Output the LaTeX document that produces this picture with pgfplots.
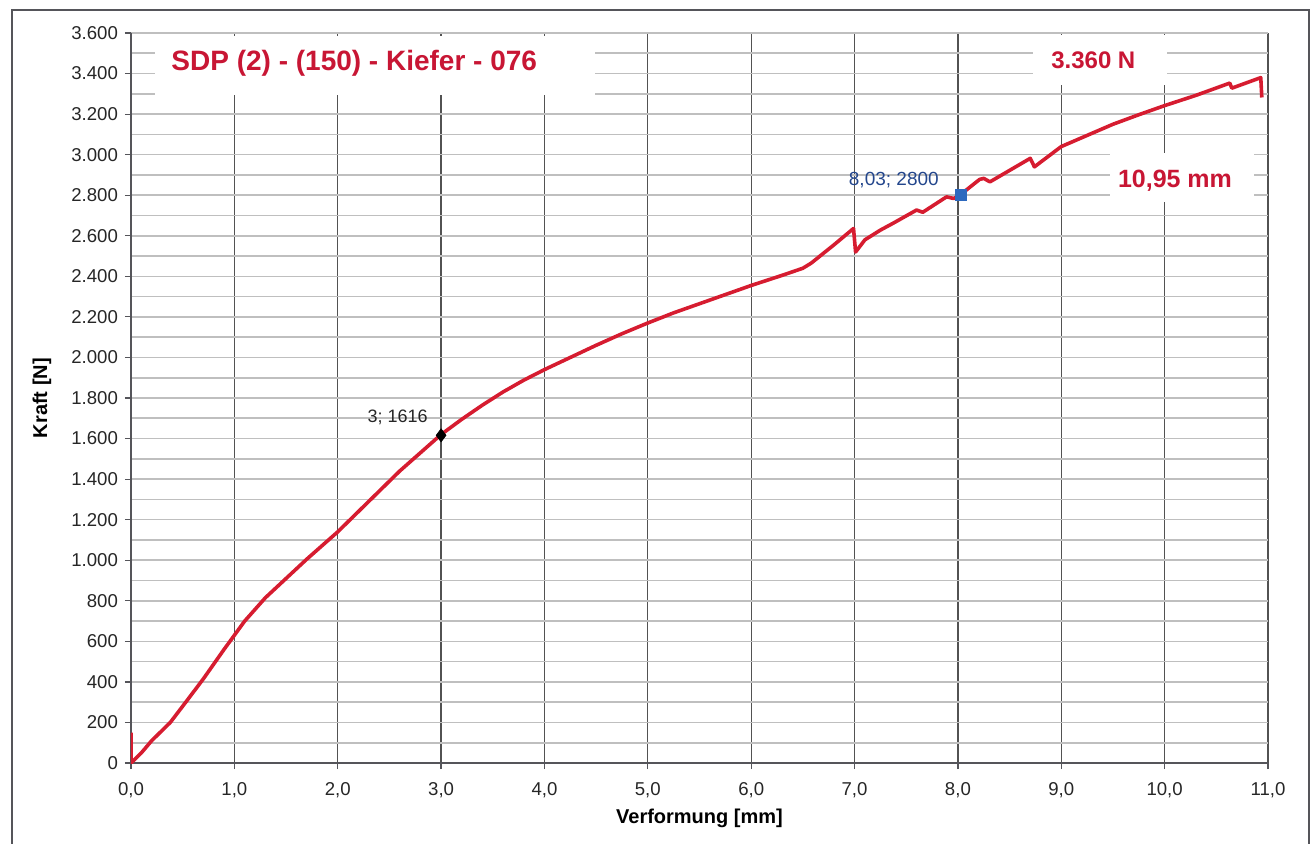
\documentclass[border=0pt]{standalone}
\usepackage{pgfplots}
\pgfplotsset{compat=1.18}
\usepackage{fontspec}
\setmainfont{Liberation Sans}
\definecolor{curvered}{RGB}{214,28,48}
\definecolor{titlered}{RGB}{200,22,52}
\definecolor{markblue}{RGB}{45,105,190}
\definecolor{labelblue}{RGB}{35,70,140}
\definecolor{axisgray}{RGB}{85,85,90}

\begin{document}
\begin{tikzpicture}
\useasboundingbox (-65.5pt,-40pt) rectangle (592.5pt,381.5pt);
\draw[axisgray, line width=0.8pt] (-59.5pt,-60pt) -- (-59.5pt,376.5pt) -- (589pt,376.5pt) -- (589pt,-60pt);
\begin{axis}[
  scale only axis,
  width=568.5pt, height=365pt,
  xmin=0, xmax=11, ymin=0, ymax=3600,
  axis lines*=left,
  axis line style={axisgray, line width=0.9pt},
  xtick={0,1,...,11},
  xticklabels={{0,0},{1,0},{2,0},{3,0},{4,0},{5,0},{6,0},{7,0},{8,0},{9,0},{10,0},{11,0}},
  ytick={0,200,...,3600},
  yticklabels={0,200,400,600,800,1.000,1.200,1.400,1.600,1.800,2.000,2.200,2.400,2.600,2.800,3.000,3.200,3.400,3.600},
  minor y tick num=1,
  xmajorgrids, ymajorgrids, yminorgrids,
  x grid style={black!68, line width=0.6pt},
  y grid style={black!25, line width=0.8pt},
  minor grid style={black!25, line width=0.8pt},
  tick align=outside,
  major tick length=3pt,
  minor tick length=0pt,
  tick style={axisgray, line width=0.6pt},
  ticklabel style={font=\fontsize{9.3}{10}\selectfont, text=black!85},
  xticklabel style={yshift=-3pt},
  xlabel={Verformung [mm]},
  ylabel={Kraft [N]},
  xlabel style={at={(axis description cs:0.5,-0.0753)}, anchor=center, font=\fontsize{10}{12}\selectfont\bfseries},
  ylabel style={at={(axis description cs:-0.0783,0.5)}, anchor=center, rotate=0, font=\fontsize{10}{12}\selectfont\bfseries},
]
\addplot[curvered, line width=1.8pt, line join=round] coordinates {
(0,150) (0,0) (0.1,50) (0.2,110) (0.38,200) (0.5,280) (0.7,415) (0.9,560) (1.0,630)
(1.1,700) (1.3,815) (1.5,910) (1.7,1005) (1.9,1095) (2.0,1140) (2.2,1240) (2.4,1340)
(2.6,1440) (2.8,1530) (3.0,1620) (3.2,1695) (3.4,1765) (3.6,1830) (3.8,1888) (4.0,1940)
(4.25,2000) (4.5,2060) (4.75,2117) (5.0,2170) (5.25,2220) (5.5,2265) (5.75,2310) (6.0,2355)
(6.3,2405) (6.5,2440) (6.58,2465) (6.8,2555) (6.99,2636) (7.01,2520) (7.1,2580)
(7.25,2628) (7.37,2661) (7.6,2727) (7.66,2716) (7.89,2792) (7.96,2784) (8.03,2805)
(8.21,2878) (8.25,2883) (8.31,2866) (8.7,2982) (8.74,2940) (9.0,3040) (9.25,3095)
(9.5,3150) (9.75,3197) (10.0,3242) (10.3,3292) (10.63,3353) (10.65,3328) (10.93,3380) (10.94,3282)
};
\addplot[only marks, mark=diamond*, mark size=3.2pt, black, mark options={fill=black}] coordinates {(3,1616)};
\addplot[only marks, mark=square*, mark size=2.8pt, markblue, mark options={fill=markblue}] coordinates {(8.03,2800)};

\fill[white] (axis cs:0.232,3294) rectangle (axis cs:4.49,3585);
\node[text=titlered, font=\fontsize{14}{16}\selectfont\bfseries] at (axis cs:2.16,3452) {SDP (2) - (150) - Kiefer - 076};
\fill[white] (axis cs:8.73,3343) rectangle (axis cs:10.02,3590);
\node[text=titlered, font=\fontsize{12}{14}\selectfont\bfseries] at (axis cs:9.31,3467) {3.360 N};
\fill[white] (axis cs:9.47,2766) rectangle (axis cs:10.86,3008);
\node[text=titlered, font=\fontsize{12.5}{14}\selectfont\bfseries] at (axis cs:10.1,2870) {10,95 mm};
\node[text=black!85, font=\fontsize{9}{10}\selectfont] at (axis cs:2.58,1706) {3; 1616};
\node[text=labelblue, font=\fontsize{9.5}{10}\selectfont] at (axis cs:7.38,2875) {8,03; 2800};
\end{axis}
\end{tikzpicture}
\end{document}
